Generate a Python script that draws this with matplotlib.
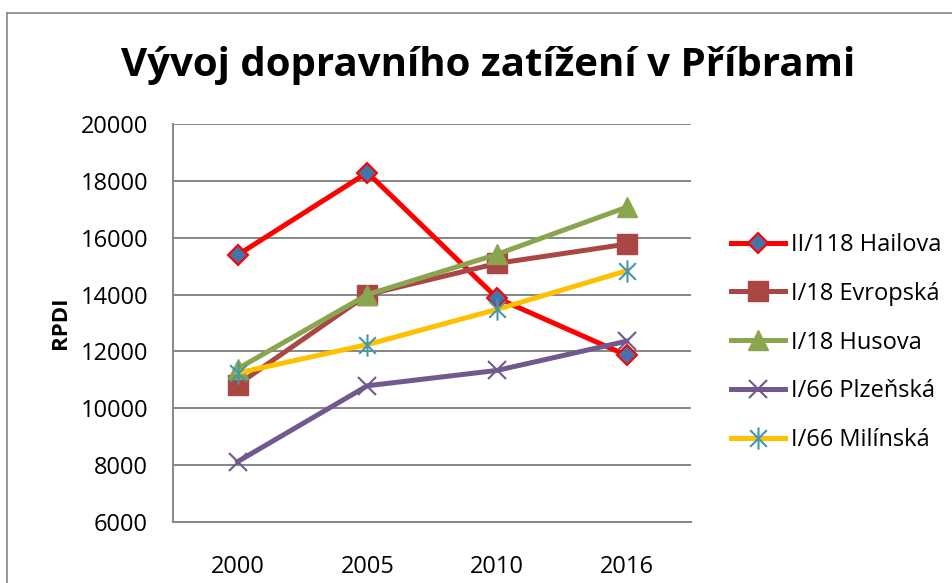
import matplotlib.pyplot as plt
from matplotlib.lines import Line2D
from matplotlib.path import Path

# Data - roky a intenzity dopravy (RPDI)
roky = ["2000", "2005", "2010", "2016"]
hailova = [15400, 18300, 13880, 11860]
evropska = [10830, 14000, 15100, 15780]
husova = [11390, 14000, 15420, 17080]
plzenska = [8120, 10790, 11330, 12360]
milinska = [11240, 12240, 13480, 14840]

plt.rcParams['font.family'] = ['Open Sans', 'DejaVu Sans']

# hvezdicka jako v Excelu (svisla cara + dve uhlopricky)
hvezda = Path([(0, -1), (0, 1), (-0.75, -0.75), (0.75, 0.75), (-0.75, 0.75), (0.75, -0.75)],
              [Path.MOVETO, Path.LINETO, Path.MOVETO, Path.LINETO, Path.MOVETO, Path.LINETO])

fig = plt.figure(figsize=(9.53, 5.83), dpi=100)
ax = fig.add_axes([0.1815, 0.1051, 0.5441, 0.6817])

x = range(len(roky))
ax.plot(x, hailova, color='#FF0000', lw=3.6, marker='D', ms=10,
        mfc='#4572A7', mec='#FF0000', mew=1.5, label='II/118 Hailova')
ax.plot(x, evropska, color='#AA4643', lw=3.6, marker='s', ms=14,
        mfc='#AA4643', mec='#AA4643', label='I/18 Evropská')
ax.plot(x, husova, color='#89A54E', lw=3.6, marker='^', ms=15,
        mfc='#89A54E', mec='#89A54E', label='I/18 Husova')
ax.plot(x, plzenska, color='#71588F', lw=3.6, marker='x', ms=13,
        mec='#71588F', mew=1.5, label='I/66 Plzeňská')
ax.plot(x, milinska, color='#FFC000', lw=3.6, marker=hvezda, ms=16,
        mec='#4198AF', mew=1.5, label='I/66 Milínská')

# Osy a mrizka
ax.set_xlim(-0.5, len(roky) - 0.5)
ax.set_ylim(6000, 20000)
ax.set_yticks(range(6000, 20001, 2000))
ax.set_xticks(list(x))
ax.set_xticklabels(roky)
ax.grid(axis='y', color='#868686', lw=1.4)
ax.set_axisbelow(True)
ax.tick_params(length=0, labelsize=17)
ax.tick_params(axis='y', pad=18)
ax.tick_params(axis='x', pad=24)
for s in ['top', 'right']:
    ax.spines[s].set_visible(False)
for s in ['left', 'bottom']:
    ax.spines[s].set_color('#868686')
    ax.spines[s].set_linewidth(1.4)

ax.set_ylabel('RPDI', fontsize=16, fontweight='bold', labelpad=7)

# Titulek
fig.text(0.512, 0.87, 'Vývoj dopravního zatížení v Příbrami',
         fontsize=29, fontweight='bold', ha='center', va='baseline')

# Legenda vpravo
ax.legend(loc='center left', bbox_to_anchor=(0.7667, 0.4125), bbox_transform=fig.transFigure,
          frameon=False, fontsize=17, handlelength=2.3, handletextpad=0.25,
          labelspacing=1.05, borderpad=0, borderaxespad=0)

# Ramecek grafu
fig.add_artist(Line2D([7.5 / 953, 7.5 / 953], [0, 1 - 12.5 / 583], color='#868686', lw=1.2))
fig.add_artist(Line2D([7.5 / 953, 1], [1 - 12.5 / 583, 1 - 12.5 / 583], color='#868686', lw=1.2))

plt.savefig('out.png', dpi=100)
